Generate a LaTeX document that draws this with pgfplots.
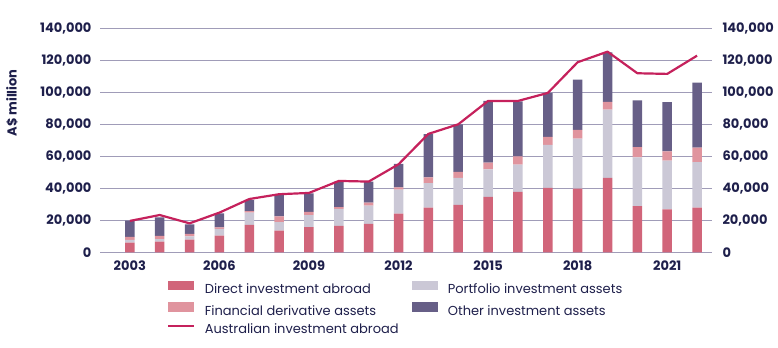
\documentclass[border=0pt]{standalone}
\usepackage{pgfplots}
\pgfplotsset{compat=1.18}
\usepackage{pgfplotstable}
\usepackage{fontspec}
\setmainfont{Poppins}
\definecolor{navy}{HTML}{1E1F4B}
\definecolor{cdirect}{HTML}{D1657A}
\definecolor{cport}{HTML}{CBC8D6}
\definecolor{cderiv}{HTML}{E0949E}
\definecolor{cother}{HTML}{675F87}
\definecolor{cline}{HTML}{C5215C}
\definecolor{cgrid}{HTML}{A09CB8}

\pgfplotstableread{
year direct port deriv other total
2003 6000 1700 1900 10200 19600
2004 6700 1600 1900 11700 23300
2005 7900 2100 1500 6000 18100
2006 10400 4200 1000 8800 24800
2007 17100 7700 1000 6900 33300
2008 13500 5300 3700 13300 36300
2009 15800 7500 1900 11700 37100
2010 16500 10600 1200 15900 44600
2011 17700 11500 1800 13200 44200
2012 24200 15000 1400 14600 55000
2013 27900 15400 3600 26900 74000
2014 29600 16900 3700 29800 80000
2015 34600 17300 4100 38600 94600
2016 37800 17000 5200 34400 94600
2017 40200 26900 5000 27500 99600
2018 39800 31200 5500 31400 118800
2019 46500 42700 4800 31000 125400
2020 28800 30600 6400 29200 111900
2021 26900 30400 5800 30700 111500
2022 27900 28400 9100 40600 122900
}\datatable

\begin{document}
\fontsize{13bp}{15bp}\selectfont
\begin{tikzpicture}
\useasboundingbox (0,0) rectangle (778bp,348bp);
\begin{axis}[
  at={(100bp,95.7bp)}, anchor=south west,
  scale only axis, width=612bp, height=224bp,
  xmin=2002.0, xmax=2022.5,
  ymin=0, ymax=140000,
  ytick={0,20000,...,140000},
  xtick={2003,2006,...,2021},
  xticklabel={\pgfmathprintnumber[fixed,precision=0,1000 sep={}]{\tick}},
  yticklabel={\pgfmathprintnumber[fixed,precision=0,1000 sep={,}]{\tick}},
  scaled y ticks=false, scaled x ticks=false,
  /pgf/number format/.cd, fixed, 1000 sep={,}, assume math mode=true, /pgfplots/.cd,
  ymajorgrids, grid style={cgrid, line width=0.8bp},
  axis line style={draw=none},
  major tick length=0pt,
  tick label style={font=\fontsize{13bp}{15bp}\selectfont\bfseries, text=navy},
  yticklabel style={xshift=-4bp},
  xticklabel style={yshift=-3.5bp},
  ylabel={A\$ million},
  ylabel style={font=\fontsize{13bp}{15bp}\selectfont\bfseries, text=navy, anchor=center, at={(axis description cs:-0.144,0.667)}},
  ybar stacked, bar width=9.5bp,
  legend columns=2,
  legend cell align=left,
  legend style={at={(axis description cs:0.1095,-0.127)}, anchor=north west,
    draw=none, fill=none, inner sep=0pt,
    font=\fontsize{13bp}{15bp}\selectfont, text=navy,
    nodes={inner sep=0pt, text height=9.5bp, text depth=3bp},
    row sep=6bp,
    /tikz/every odd column/.append style={column sep=10bp}},
  every axis plot/.append style={draw=none},
]
\addplot[fill=cdirect, legend image code/.code={\fill[cdirect] (0bp,0bp) rectangle (26bp,9.3bp);}] table[x=year,y=direct]{\datatable};
\addlegendentry{\makebox[207bp][l]{Direct investment abroad}}
\addplot[fill=cport, legend image code/.code={\fill[cport] (0bp,0bp) rectangle (26bp,9.3bp);}] table[x=year,y=port]{\datatable};
\addlegendentry{Portfolio investment assets}
\addplot[fill=cderiv, legend image code/.code={\fill[cderiv] (0bp,0bp) rectangle (26bp,9.3bp);}] table[x=year,y=deriv]{\datatable};
\addlegendentry{\makebox[207bp][l]{Financial derivative assets}}
\addplot[fill=cother, legend image code/.code={\fill[cother] (0bp,0bp) rectangle (26bp,9.3bp);}] table[x=year,y=other]{\datatable};
\addlegendentry{Other investment assets}
\addlegendimage{draw=cline, line width=2bp, legend image code/.code={\draw[cline, line width=1.6bp] (0bp,4bp) -- (26bp,4bp);}}
\addlegendentry{\makebox[207bp][l]{Australian investment abroad}}
\end{axis}
\begin{axis}[
  at={(100bp,95.7bp)}, anchor=south west,
  scale only axis, width=612bp, height=224bp,
  xmin=2002.0, xmax=2022.5,
  ymin=0, ymax=140000,
  ytick={0,20000,...,140000},
  xtick=\empty,
  axis x line=none,
  axis y line*=right,
  yticklabel pos=right,
  yticklabel={\pgfmathprintnumber[fixed,precision=0,1000 sep={,}]{\tick}},
  scaled y ticks=false,
  /pgf/number format/.cd, fixed, 1000 sep={,}, assume math mode=true, /pgfplots/.cd,
  axis line style={draw=none},
  major tick length=0pt,
  tick label style={font=\fontsize{13bp}{15bp}\selectfont\bfseries, text=navy},
  yticklabel style={xshift=6bp},
]
\addplot[cline, line width=2.2bp, line join=round] table[x=year,y=total]{\datatable};
\end{axis}
\end{tikzpicture}
\end{document}
